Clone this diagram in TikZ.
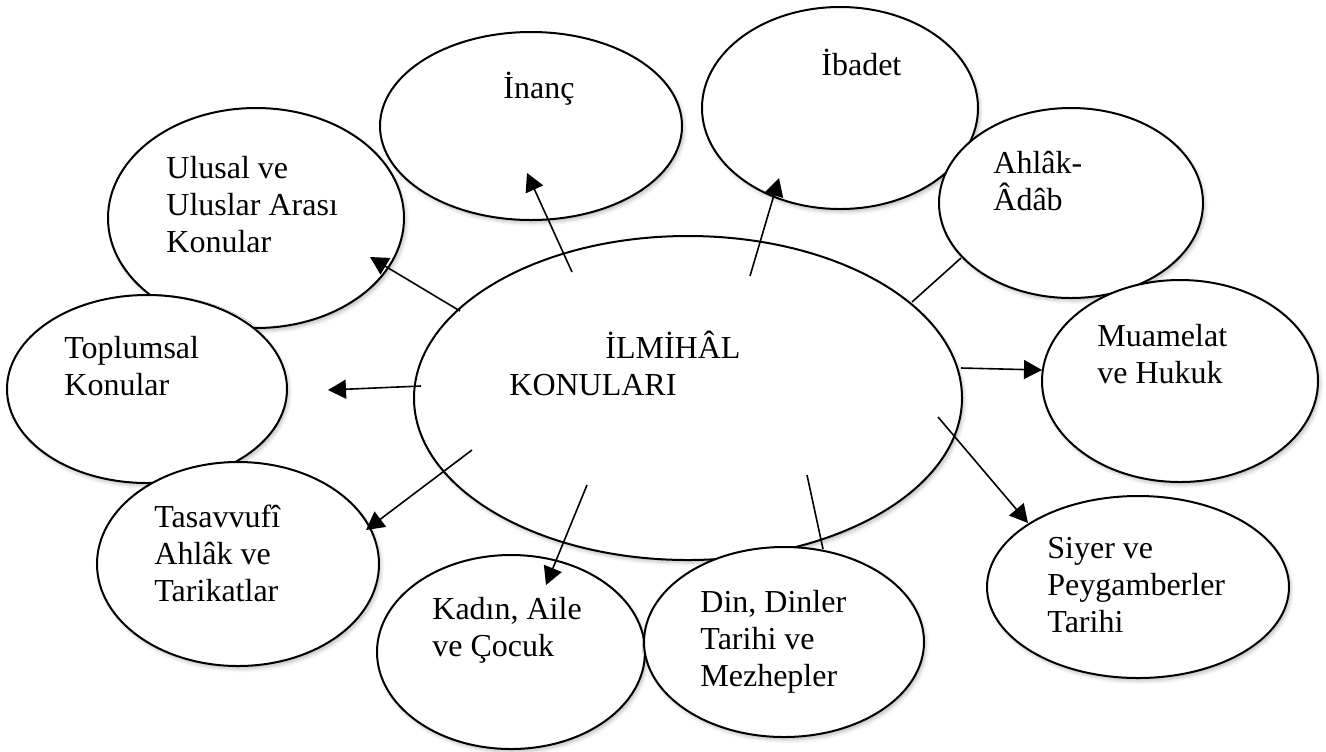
\documentclass[tikz,border=0pt]{standalone}
\usepackage{fontspec}
\setmainfont{Liberation Serif}
\usetikzlibrary{shapes.geometric, arrows.meta, shadows.blur}

\begin{document}
\begin{tikzpicture}
[x=0.5pt, y=-0.5pt, every node/.style={color=black},
 topic/.style={ellipse, draw, line width=1pt, fill=white, inner sep=0pt,
   blur shadow={shadow xshift=1pt, shadow yshift=-1.5pt, shadow blur steps=4, shadow opacity=25}},
 txt/.style={anchor=base west, align=left, inner sep=0pt, font=\fontsize{16}{18.5}\selectfont},
 link/.style={line width=0.8pt, -{Triangle[length=9pt, width=9.5pt]}},
 plain/.style={line width=0.8pt}]
    \useasboundingbox (0,0) rectangle (1326,751);
    % start points inside the centre
    \coordinate (s1) at (572,272);
    \coordinate (s2) at (750,276);
    \coordinate (s3) at (912,302);
    \coordinate (s4) at (961,368);
    \coordinate (s5) at (938,417);
    \coordinate (s6) at (807,475);
    \coordinate (s7) at (587,485);
    \coordinate (s8) at (472,450);
    \coordinate (s9) at (421,386);
    \coordinate (s10) at (460,311);
    % end points in the topics
    \coordinate (t1) at (527,173);
    \coordinate (t2) at (779,178);
    \coordinate (t3) at (961,258);
    \coordinate (t4) at (1042,370);
    \coordinate (t5) at (1028,523);
    \coordinate (t6) at (823,549);
    \coordinate (t7) at (546,585);
    \coordinate (t8) at (366,530);
    \coordinate (t9) at (328,390);
    \coordinate (t10) at (370,257);
    % ellipses
    \node[topic, minimum width=274pt, minimum height=162pt] (c) at (688,398) {};
    \node[topic, minimum width=148pt, minimum height=110pt] (e10) at (256,218) {};
    \node[topic, minimum width=151pt, minimum height=94pt] (e1) at (531,126) {};
    \node[topic, minimum width=138pt, minimum height=101pt] (e2) at (840,108) {};
    \node[topic, minimum width=132pt, minimum height=95pt] (e3) at (1071,203) {};
    \node[topic, minimum width=138pt, minimum height=101pt] (e4) at (1180,381) {};
    \node[topic, minimum width=151pt, minimum height=91pt] (e5) at (1138,587) {};
    \node[topic, minimum width=140pt, minimum height=94pt] (e9) at (147,389) {};
    \node[topic, minimum width=141pt, minimum height=102pt] (e8) at (238,564) {};
    \node[topic, minimum width=134pt, minimum height=97pt] (e7) at (511,652) {};
    \node[topic, minimum width=140pt, minimum height=95pt] (e6) at (784,642) {};
    % texts (base = last line)
    \node[txt] (ct) at (509,395) {\hspace*{48pt}İLMİHÂL\\KONULARI};
    \node[txt] (l1) at (503,98) {İnanç};
    \node[txt] (l2) at (821,75) {İbadet};
    \node[txt] (l3) at (993,210) {Ahlâk-\\Âdâb};
    \node[txt] (l4) at (1097,383) {Muamelat\\ve Hukuk};
    \node[txt] (l5) at (1047,632) {Siyer ve\\Peygamberler\\Tarihi};
    \node[txt] (l6) at (700,686) {Din, Dinler\\Tarihi ve\\Mezhepler};
    \node[txt] (l7) at (432,656) {Kadın, Aile\\ve Çocuk};
    \node[txt] (l8) at (154,601) {Tasavvufî\\Ahlâk ve\\Tarikatlar};
    \node[txt] (l9) at (64,395) {Toplumsal\\Konular};
    \node[txt] (l10) at (166,252) {Ulusal ve\\Uluslar Arası\\Konular};
    % connectors
    \draw[link] (s1) -- (t1);
    \draw[link] (s2) -- (t2);
    \draw[plain] (s3) -- (t3);
    \draw[link] (s4) -- (t4);
    \draw[link] (s5) -- (t5);
    \draw[plain] (s6) -- (t6);
    \draw[link] (s7) -- (t7);
    \draw[link] (s8) -- (t8);
    \draw[link] (s9) -- (t9);
    \draw[link] (s10) -- (t10);
\end{tikzpicture}
\end{document}
